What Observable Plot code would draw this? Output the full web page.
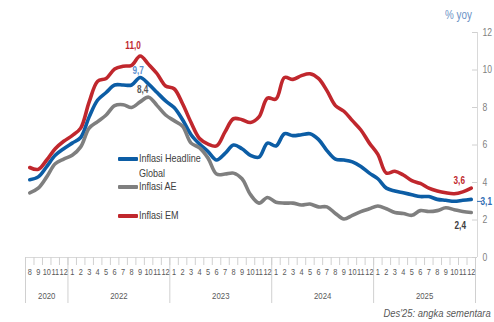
<!DOCTYPE html>
<html><head><meta charset="utf-8">
<script src="https://cdn.jsdelivr.net/npm/d3@7"></script>
<script src="https://cdn.jsdelivr.net/npm/@observablehq/plot@0.6"></script>
<style>
body{margin:0;background:#fff;}
#wrap{position:relative;width:494px;height:322px;font-family:"Liberation Sans",Arial,sans-serif;color:#404040;}
#wrap svg{position:absolute;left:0;top:0;}
.ov{position:absolute;white-space:nowrap;line-height:1;transform:scaleX(0.82);transform-origin:left center;}
.leg{position:absolute;font-size:11px;color:#404040;line-height:1;white-space:nowrap;transform:scaleX(0.82);transform-origin:left center;}
.sw{position:absolute;height:3.5px;width:20px;border-radius:1px;}
</style></head><body><div id="wrap"></div>
<script>
// Month tick labels (Aug 2020 .. Dec 2025 as printed on the chart)
const months = ["8","9","10","11","12",
  "1","2","3","4","5","6","7","8","9","10","11","12",
  "1","2","3","4","5","6","7","8","9","10","11","12",
  "1","2","3","4","5","6","7","8","9","10","11","12",
  "1","2","3","4","5","6","7","8","9","10","11","12"];
const yearLabels = ["2020","2022","2023","2024","2025"];
const yTicks = [0,2,4,6,8,10,12];
const seriesNames = ["Inflasi Headline Global","Inflasi AE","Inflasi EM"];

const headlineValues = [4.15,4.3,4.85,5.45,5.8,6.1,6.4,7.5,8.4,8.8,9.2,9.2,9.2,9.6,9.25,8.8,8.35,8.0,7.35,6.55,6.05,5.65,5.2,5.55,6.0,5.8,5.45,5.35,6.1,5.95,6.6,6.5,6.55,6.6,6.3,5.7,5.25,5.2,5.1,4.85,4.5,4.2,3.7,3.55,3.45,3.35,3.25,3.25,3.1,3.05,3.0,3.05,3.1];
const aeValues = [3.45,3.7,4.3,5.0,5.25,5.45,5.9,6.9,7.25,7.6,8.1,8.15,8.0,8.3,8.55,8.1,7.6,7.3,7.0,6.1,5.85,5.3,4.45,4.45,4.5,4.2,3.35,2.9,3.2,2.95,2.9,2.9,2.8,2.85,2.7,2.7,2.35,2.05,2.25,2.45,2.6,2.75,2.6,2.4,2.35,2.25,2.5,2.45,2.5,2.65,2.55,2.45,2.4];
const emValues = [4.8,4.7,5.2,5.8,6.2,6.5,6.9,8.3,9.4,9.55,10.05,10.2,10.25,10.75,10.3,9.8,9.15,9.0,8.2,7.2,6.35,6.05,5.95,6.7,7.4,7.35,7.2,7.5,8.5,8.45,9.6,9.5,9.7,9.8,9.55,8.9,8.1,7.8,7.3,6.8,6.1,5.5,4.5,4.6,4.4,4.1,3.95,3.7,3.55,3.45,3.4,3.5,3.7];

const colors = {"Inflasi Headline Global":"#0c5da5","Inflasi AE":"#7f7f7f","Inflasi EM":"#c0272d"};

// Annotated values
const peakLabels = [
  {s:"Inflasi EM", i:13, text:"11,0", fill:"#c0272d", dx:-7, dy:-10},
  {s:"Inflasi Headline Global", i:13, text:"9,7", fill:"#5b8fd0", dx:-2, dy:-7},
  {s:"Inflasi AE", i:14, text:"8,4", fill:"#595959", dx:-6, dy:-7}
];
const endLabels = [
  {s:"Inflasi EM", text:"3,6", fill:"#c0272d", dx:-12, dy:-7},
  {s:"Inflasi Headline Global", text:"3,1", fill:"#2f6eb5", dx:15, dy:2},
  {s:"Inflasi AE", text:"2,4", fill:"#404040", dx:-11, dy:13}
];

const valuesBySeries = {"Inflasi Headline Global":headlineValues,"Inflasi AE":aeValues,"Inflasi EM":emValues};
const rows = [];
for (const s of seriesNames) valuesBySeries[s].forEach((v,i)=>rows.push({s,i,v}));

// year segments derived from month labels
const starts = [0];
months.forEach((m,i)=>{ if(m==="1" && i>0) starts.push(i); });
const bounds = [...starts, months.length].map(b=>b-0.5);
const yearRows = yearLabels.map((t,k)=>({t, c:(starts[k] + (k+1<starts.length?starts[k+1]:months.length) - 1)/2}));
const monthBounds = d3.range(months.length+1).map(b=>b-0.5);
const last = months.length-1;

const font = '"Liberation Sans",Arial,sans-serif';

const labelMarks = [];
for (const L of peakLabels) {
  labelMarks.push(Plot.text([L], {x:d=>d.i, y:d=>valuesBySeries[d.s][d.i], text:"text", fill:L.fill, dx:L.dx, dy:L.dy, fontSize:10, fontWeight:"bold"}));
}
for (const L of endLabels) {
  labelMarks.push(Plot.text([L], {x:()=>last, y:d=>valuesBySeries[d.s][last], text:"text", fill:L.fill, dx:L.dx, dy:L.dy, fontSize:10, fontWeight:"bold"}));
}
const hl = endLabels[1];
labelMarks.push(Plot.ruleY([hl], {y:d=>valuesBySeries[d.s][last], x1:()=>last+0.5, x2:()=>last+0.5, insetRight:-5, dx:2, dy:2, stroke:"#2f6eb5", strokeWidth:1}));

const chart = Plot.plot({
  width:494, height:322,
  marginTop:32, marginBottom:65, marginLeft:25, marginRight:19,
  x:{type:"linear", domain:[-0.5, months.length-0.5], axis:null},
  y:{domain:[0,12], axis:null},
  style:{fontFamily:font, background:"transparent", color:"#595959"},
  marks:[
    Plot.ruleY([0], {x1:()=>-0.5, x2:()=>months.length-0.5, stroke:"#d9d9d9"}),
    Plot.ruleX(monthBounds, {x:d=>d, y1:()=>0, y2:()=>0, insetBottom:-8, stroke:"#d0d0d0"}),
    Plot.ruleX(bounds, {x:d=>d, y1:()=>0, y2:()=>0, insetBottom:-46, stroke:"#d0d0d0"}),
    Plot.text(months, {x:(d,i)=>i, y:()=>0, text:d=>d, dy:15, fontSize:9, fill:"#595959"}),
    Plot.text(yearRows, {x:"c", y:()=>0, text:"t", dy:38, fontSize:9.5, fill:"#595959"}),
    Plot.ruleX([months.length-0.5], {y1:()=>0, y2:()=>12, dx:2, stroke:"#d9d9d9"}),
    Plot.ruleY(yTicks, {y:d=>d, x1:()=>months.length-0.5, x2:()=>months.length-0.5, insetLeft:-5, dx:2, stroke:"#d0d0d0"}),
    Plot.text(yTicks, {x:()=>months.length-0.5, y:d=>d, text:d=>String(d), dx:7, textAnchor:"start", fontSize:10.5, fill:"#7f7f7f"}),
    Plot.line(rows, {x:"i", y:"v", z:"s", stroke:d=>colors[d.s], strokeWidth:3.6, curve:"catmull-rom"}),
    ...labelMarks
  ]
});
const wrap = document.getElementById("wrap");
wrap.appendChild(chart);
// condense SVG text to mimic a narrow (Calibri-like) face
chart.querySelectorAll("text").forEach(el=>{
  const w = el.getComputedTextLength();
  if (w>0) { el.setAttribute("textLength", (w*0.82).toFixed(2)); el.setAttribute("lengthAdjust","spacingAndGlyphs"); }
});

function ov(text, css, cls){ const d=document.createElement("div"); d.className=cls||"ov"; d.textContent=text; Object.assign(d.style, css); wrap.appendChild(d); return d; }
ov("% yoy", {left:"445px", top:"9px", fontSize:"12px", color:"#6d93c6"});
ov("Des'25: angka sementara", {right:"3px", top:"308px", fontSize:"11.5px", fontStyle:"italic", color:"#595959", transformOrigin:"right center"});

// legend
const legend = [
  {s:"Inflasi Headline Global", lines:["Inflasi Headline","Global"], y:159},
  {s:"Inflasi AE", lines:["Inflasi AE"], y:187},
  {s:"Inflasi EM", lines:["Inflasi EM"], y:216}
];
for (const L of legend) {
  const sw = document.createElement("div"); sw.className="sw";
  Object.assign(sw.style,{left:"118px", top:(L.y-1.75)+"px", background:colors[L.s]});
  wrap.appendChild(sw);
  L.lines.forEach((t,k)=>ov(t,{left:"139px", top:(L.y-6+k*15)+"px"},"leg"));
}
</script></body></html>
